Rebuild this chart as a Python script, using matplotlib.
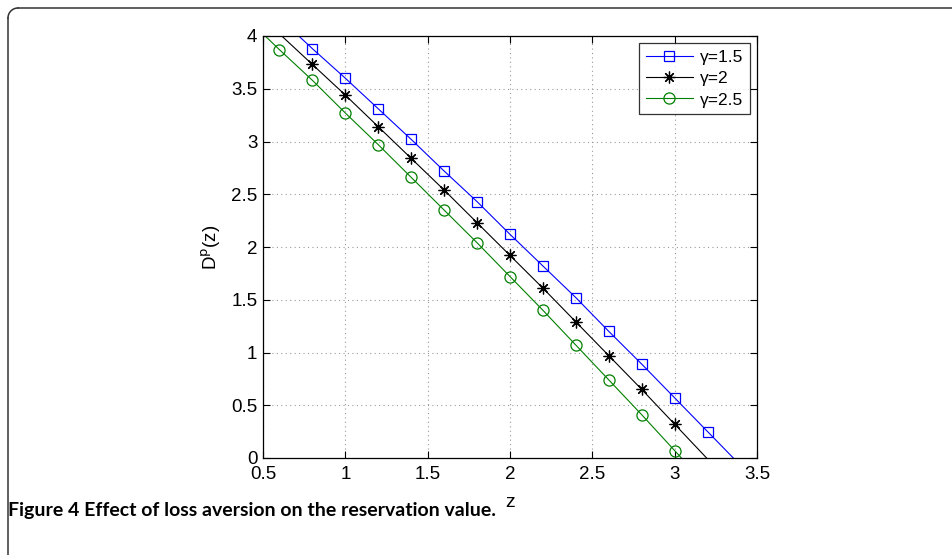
import numpy as np
import matplotlib
matplotlib.use("Agg")
import matplotlib.pyplot as plt
from matplotlib.lines import Line2D

# Data
z_g15 = [0.6, 0.8, 1.0, 1.2, 1.4, 1.6, 1.8, 2.0, 2.2, 2.4, 2.6, 2.8, 3.0, 3.2, 3.4]
D_g15 = [4.17, 3.88, 3.60, 3.31, 3.02, 2.72, 2.43, 2.12, 1.82, 1.52, 1.20, 0.89, 0.57, 0.25, -0.07]

z_g2 = [0.6, 0.8, 1.0, 1.2, 1.4, 1.6, 1.8, 2.0, 2.2, 2.4, 2.6, 2.8, 3.0, 3.2]
D_g2 = [4.02, 3.73, 3.44, 3.14, 2.84, 2.54, 2.23, 1.92, 1.61, 1.29, 0.97, 0.65, 0.32, -0.01]

z_g25 = [0.5, 0.6, 0.8, 1.0, 1.2, 1.4, 1.6, 1.8, 2.0, 2.2, 2.4, 2.6, 2.8, 3.0, 3.1]
D_g25 = [4.02, 3.87, 3.58, 3.27, 2.97, 2.66, 2.35, 2.04, 1.72, 1.40, 1.07, 0.74, 0.41, 0.07, -0.10]

labels = ["γ=1.5", "γ=2", "γ=2.5"]
x_ticks = [0.5, 1, 1.5, 2, 2.5, 3, 3.5]
x_ticklabels = ["0.5", "1", "1.5", "2", "2.5", "3", "3.5"]
y_ticks = [0, 0.5, 1, 1.5, 2, 2.5, 3, 3.5, 4]
y_ticklabels = ["0", "0.5", "1", "1.5", "2", "2.5", "3", "3.5", "4"]

plt.rcParams['font.family'] = ['Liberation Sans', 'DejaVu Sans']

fig = plt.figure(figsize=(9.53, 5.55), dpi=100)
ax = fig.add_axes([263/953, 1-458/555, (757-263)/953, (458-36)/555])

asterisk = (8, 2, 0)
series = [
    (z_g15, D_g15, 'blue', 's', 7, labels[0]),
    (z_g2, D_g2, 'black', asterisk, 8.5, labels[1]),
    (z_g25, D_g25, '#008000', 'o', 8, labels[2]),
]
handles = []
for zz, DD, col, mk, ms, lab in series:
    zz = np.array(zz); DD = np.array(DD)
    on_grid = np.isclose(np.round(zz / 0.2) * 0.2, zz)
    mask = list(np.where(on_grid & (DD >= 0) & (DD <= 4))[0])
    ln, = ax.plot(zz, DD, color=col, lw=0.8, marker=mk, ms=ms, markevery=mask,
                  mfc='none', mec=col, mew=0.9, label=lab)
    handles.append(ln)

ax.set_xlim(0.5, 3.5)
ax.set_ylim(0, 4)
ax.set_xticks(x_ticks)
ax.set_xticklabels(x_ticklabels)
ax.set_yticks(y_ticks)
ax.set_yticklabels(y_ticklabels)
ax.tick_params(direction='in', top=True, right=True, labelsize=13.5, length=5, width=0.8)
ax.tick_params(axis='x', pad=6)
ax.tick_params(axis='y', pad=4)
ax.grid(True, linestyle=(0, (1, 3)), color='#999999', lw=0.8)
for s in ax.spines.values():
    s.set_linewidth(0.9)

ax.set_xlabel('z', fontsize=14, labelpad=8)
ax.set_ylabel(r'D$^{\mathrm{p}}$(z)', fontsize=13.5, labelpad=6)

leg = ax.legend(handles=handles, loc='upper right', fontsize=12.5, frameon=True,
                fancybox=False, edgecolor='black', handlelength=2.7,
                borderaxespad=0.4, labelspacing=0.35, handletextpad=0.4,
                borderpad=0.4)
leg.get_frame().set_linewidth(0.9)

# Outer frame (rounded corner at top-left, open at right/bottom)
fig.add_artist(Line2D([8/953, 8/953], [0, 1-18/555], transform=fig.transFigure,
                      color='#333333', lw=1.1))
fig.add_artist(Line2D([18/953, 1], [1-8/555, 1-8/555], transform=fig.transFigure,
                      color='#333333', lw=1.1))
t = np.linspace(np.pi/2, np.pi, 20)
cx, cy, r = 18, 18, 10
fig.add_artist(Line2D((cx + r*np.cos(t))/953, 1-(cy - r*np.sin(t))/555,
                      transform=fig.transFigure, color='#333333', lw=1.1))

fig.text(8/953, 1-516/555, 'Figure 4 Effect of loss aversion on the reservation value.',
         fontsize=14, fontweight='bold', family=['Lato', 'DejaVu Sans'],
         ha='left', va='baseline')

fig.savefig('out.png', dpi=100)
